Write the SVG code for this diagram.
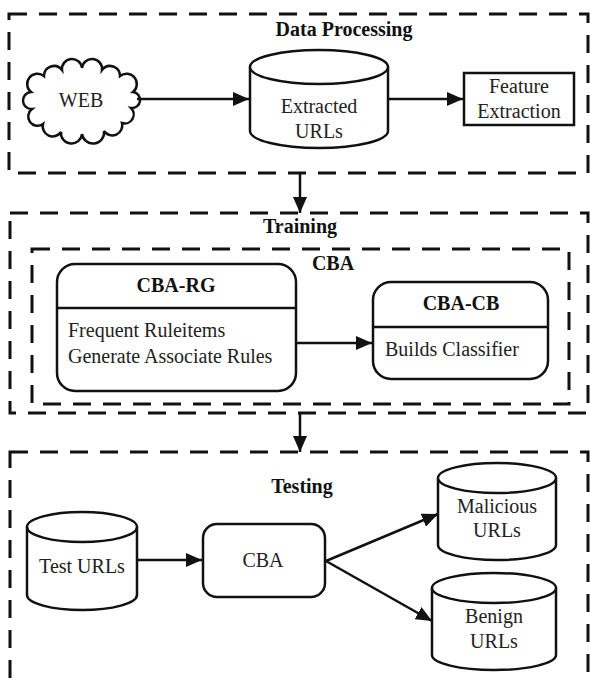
<svg xmlns="http://www.w3.org/2000/svg" width="590" height="682" viewBox="0 0 590 682" font-family="'Liberation Serif','DejaVu Serif','Noto Serif',serif">
<defs>
<style>
text{font-family:'Liberation Serif','Times New Roman','DejaVu Serif',serif;font-size:20px;fill:#222}
.b{font-weight:bold;fill:#111}
.m{text-anchor:middle}
.frame{fill:none;stroke:#111;stroke-width:3;stroke-dasharray:18 12}
.shape{fill:#fff;stroke:#111;stroke-width:2.5}
.line{fill:none;stroke:#111;stroke-width:2.5}
.conn{fill:none;stroke:#111;stroke-width:2.5;marker-end:url(#ah)}
</style>
<marker id="ah" viewBox="0 0 16 14" refX="16" refY="7" markerWidth="16" markerHeight="14" markerUnits="userSpaceOnUse" orient="auto">
<path d="M0,0 L16,7 L0,14 Z" fill="#111"/>
</marker>
</defs>
<rect width="590" height="682" fill="#fff"/>

<g id="data-processing">
<rect class="frame" x="9" y="14" width="579" height="159"/>
<text class="b m" x="344" y="36">Data Processing</text>
</g>
<g id="training">
<rect class="frame" x="10" y="213" width="578" height="200"/>
<text class="b m" x="300" y="233">Training</text>
</g>
<g id="cba-group">
<rect class="frame" x="32" y="249" width="537" height="155"/>
<text class="b m" x="333" y="270">CBA</text>
</g>
<g id="testing">
<rect class="frame" x="10" y="452" width="578" height="240"/>
<text class="b m" x="302" y="493">Testing</text>
</g>

<g id="web">
<path class="shape" d="M133,92 A8,8 0 0 1 131,108 A9,9 0 0 1 122,123 A10,10 0 0 1 104,131 A10,10 0 0 1 82,134 A10,10 0 0 1 61,132 A10,10 0 0 1 43,124 A9,9 0 0 1 32,109 A8,8 0 0 1 31,92 A9,9 0 0 1 44,76 A10,10 0 0 1 62,70 A10,10 0 0 1 82,68 A10,10 0 0 1 102,70 A10,10 0 0 1 120,76 A9,9 0 0 1 133,92 Z"/>
<text class="m" x="81" y="107">WEB</text>
</g>

<g id="extracted-urls">
<path class="shape" d="M250,67 V131 A69,17 0 0 0 388,131 V67"/>
<ellipse class="shape" cx="319" cy="67" rx="69" ry="17"/>
<text class="m" x="319" y="113">Extracted</text>
<text class="m" x="319" y="138">URLs</text>
</g>

<g id="feature-extraction">
<rect class="shape" x="464" y="73" width="110" height="52"/>
<text class="m" x="519" y="93">Feature</text>
<text class="m" x="519" y="118">Extraction</text>
</g>

<g id="cba-rg">
<rect class="shape" x="57" y="264" width="239" height="127" rx="18"/>
<line class="line" x1="57" y1="308" x2="296" y2="308"/>
<text class="b m" x="176" y="292">CBA-RG</text>
<text x="68" y="337">Frequent Ruleitems</text>
<text x="68" y="363">Generate Associate Rules</text>
</g>

<g id="cba-cb">
<rect class="shape" x="373" y="282" width="175" height="97" rx="18"/>
<line class="line" x1="373" y1="327" x2="548" y2="327"/>
<text class="b m" x="461" y="310">CBA-CB</text>
<text x="385" y="356">Builds Classifier</text>
</g>

<g id="test-urls">
<path class="shape" d="M27,527 V595 A55,15 0 0 0 137,595 V527"/>
<ellipse class="shape" cx="82" cy="527" rx="55" ry="15"/>
<text class="m" x="82" y="573">Test URLs</text>
</g>

<g id="cba-test">
<rect class="shape" x="203" y="524" width="122" height="73" rx="14"/>
<text class="m" x="263" y="567">CBA</text>
</g>

<g id="malicious-urls">
<path class="shape" d="M438,478 V545 A59,15 0 0 0 556,545 V478"/>
<ellipse class="shape" cx="497" cy="478" rx="59" ry="15"/>
<text class="m" x="497" y="513">Malicious</text>
<text class="m" x="497" y="537">URLs</text>
</g>

<g id="benign-urls">
<path class="shape" d="M432,588 V655 A62,15 0 0 0 556,655 V588"/>
<ellipse class="shape" cx="494" cy="588" rx="62" ry="15"/>
<text class="m" x="494" y="623">Benign</text>
<text class="m" x="494" y="648">URLs</text>
</g>

<g id="connectors">
<line class="conn" x1="137" y1="99" x2="249" y2="99"/>
<line class="conn" x1="388" y1="99" x2="463" y2="99"/>
<line class="conn" x1="300" y1="173" x2="300" y2="213"/>
<line class="conn" x1="296" y1="343" x2="372" y2="343"/>
<line class="conn" x1="300" y1="413" x2="300" y2="452"/>
<line class="conn" x1="137" y1="560" x2="202" y2="560"/>
<line class="conn" x1="326" y1="561" x2="438" y2="514"/>
<line class="conn" x1="326" y1="561" x2="432" y2="621"/>
</g>
</svg>
